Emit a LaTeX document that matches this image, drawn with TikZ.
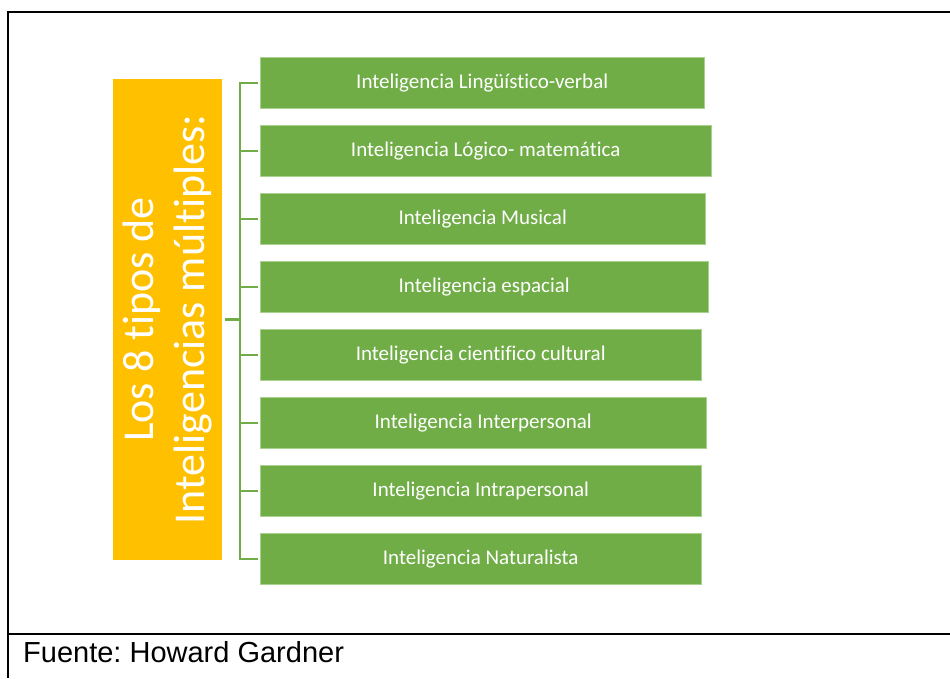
\documentclass[tikz,border=0pt]{standalone}
\usepackage{fontspec}
\setmainfont{Carlito}[Ligatures={NoCommon}]
\newfontfamily\arialfont{Liberation Sans}
\usetikzlibrary{shapes,calc}
\frenchspacing
\definecolor{boxgreen}{HTML}{70AD47}
\definecolor{edgegreen}{HTML}{A9D18E}
\definecolor{titleorange}{HTML}{FFC000}
\tikzstyle{frame} = [draw=black, line width=2.2pt]
\tikzstyle{bracket} = [draw=boxgreen, line width=2.4pt]
\tikzstyle{block} = [draw=edgegreen, fill=boxgreen, rectangle, text=white, text centered, minimum height=51pt, inner sep=0pt, anchor=north west, font=\fontsize{21}{25}\selectfont]
\tikzstyle{title} = [fill=titleorange, rectangle, minimum width=109pt, minimum height=481pt, inner sep=0pt]
\begin{document}
\begin{tikzpicture}[x=1pt, y=-1pt]
        \useasboundingbox (0,0) rectangle (950,678);
        % table lines
        \draw[frame] (8,678) -- (8,12) -- (950,12);
        \draw[frame] (8,634) -- (950,634);
        % left title
        \node[title] (tipos) at (167.5,319.5) {};
        \node[rotate=90, text=white, align=center, font=\fontsize{44}{51}\selectfont] (tiposlabel) at (tipos.center) {Los 8 tipos de\\Inteligencias múltiples:};
        % the eight boxes
        \node[block, minimum width=444pt] (b1) at (260,57) {Inteligencia Lingüístico-verbal};
        \node[block, minimum width=451pt] (b2) at (260,125) {Inteligencia Lógico- matemática};
        \node[block, minimum width=445pt] (b3) at (260,193) {Inteligencia Musical};
        \node[block, minimum width=448pt] (b4) at (260,261) {Inteligencia espacial};
        \node[block, minimum width=441pt] (b5) at (260,329) {Inteligencia cientifico cultural};
        \node[block, minimum width=446pt] (b6) at (260,397) {Inteligencia Interpersonal};
        \node[block, minimum width=441pt] (b7) at (260,465) {Inteligencia Intrapersonal};
        \node[block, minimum width=441pt] (b8) at (260,533) {Inteligencia Naturalista};
        % bracket
        \coordinate (hub) at (240,319.5);
        \path[bracket, shorten <=3pt] (tipos.east) -- (hub);
        \path[bracket, shorten >=2pt] (hub) |- (b1.west);
        \path[bracket, shorten >=2pt] (hub) |- (b2.west);
        \path[bracket, shorten >=2pt] (hub) |- (b3.west);
        \path[bracket, shorten >=2pt] (hub) |- (b4.west);
        \path[bracket, shorten >=2pt] (hub) |- (b5.west);
        \path[bracket, shorten >=2pt] (hub) |- (b6.west);
        \path[bracket, shorten >=2pt] (hub) |- (b7.west);
        \path[bracket, shorten >=2pt] (hub) |- (b8.west);
        % source
        \node[anchor=base west, inner sep=0pt, font=\arialfont\fontsize{29}{34}\selectfont] (fuente) at (23,662) {Fuente: Howard Gardner};
    \end{tikzpicture}
\end{document}
